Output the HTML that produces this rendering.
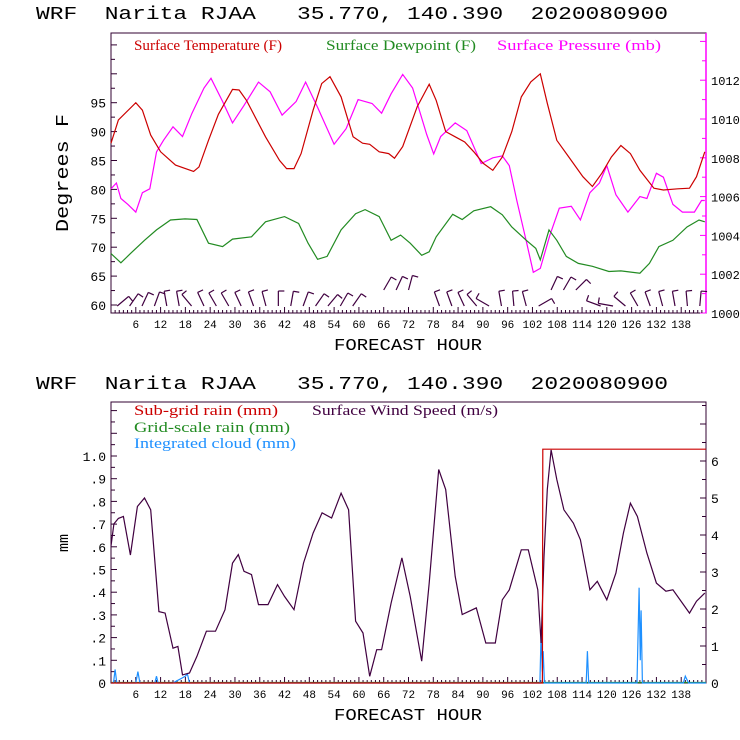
<!DOCTYPE html>
<html><head><meta charset="utf-8"><style>
html,body{margin:0;padding:0;background:#fff;}
svg{display:block;}
text{font-family:"Liberation Sans",sans-serif;}
.mono{font-family:"Liberation Mono",monospace;}
.serif{font-family:"Liberation Serif",serif;}
.pre{white-space:pre;}
</style></head><body>
<svg id="chart" width="740" height="740" viewBox="0 0 740 740" xmlns="http://www.w3.org/2000/svg">
<g id="topPanel"></g>
<g id="botPanel"></g>
</svg>
<script>
// ---------- data (top panel) ----------
const tempHours=[0,1.8,6,7.6,9.6,12,15.6,20,21.3,23.6,26,29.4,31,32.8,37.4,40.8,42.5,44.3,46,48.9,51,53,55.7,58.6,60.9,62.6,64.9,67.2,68.6,70.6,74.1,77,78.7,81,83.3,85.6,87.8,90.1,92.4,94.7,97,99.3,101.6,103.9,105.6,107.9,110.8,114.2,116.5,118.8,121.1,123.4,125.7,128,131.4,133.7,137.2,140,141.7,143.7];
const tempVals=[88,92,95,93.7,89.4,86.5,84.2,83.1,83.9,88.5,93,97.3,97.2,95.4,89.1,85,83.6,83.6,86.2,93.7,98.3,99.5,96,89.1,88,87.8,86.5,86.2,85.4,87.4,94.3,98.2,95.4,90,89.1,88.2,86.5,84.5,83.3,85.6,90,96,98.6,100,94.9,88.5,85.6,82.2,80.5,82.8,85.6,87.6,86.2,83.3,80.2,79.9,80.1,80.2,82.2,86.5];
const dewHours=[0,2.4,4.7,8.1,11,14.4,17.9,20.8,23.6,27,29.4,34,37.4,42,45.4,47.7,50,52.3,55.7,59.2,61.5,64.9,67.8,70.1,72.4,75.2,77,78.7,82.7,85,87.8,91.9,94.7,97,100.5,102.8,103.9,106,107.9,110.2,113.1,116.5,120.5,123.4,128,130.3,132.6,136,139.4,142.3,143.7];
const dewVals=[68.9,67.3,68.9,71.2,73,74.7,74.9,74.8,70.7,70.1,71.4,71.8,74.4,75.3,74.1,70.7,67.9,68.4,73,75.8,76.5,75.3,71.2,72.1,70.7,68.6,69.2,71.8,75.7,74.8,76.3,77,75.6,73.5,71.2,69.8,67.8,73,71.2,68.4,67.2,66.7,65.8,65.9,65.5,67.2,70.1,71.2,73.5,74.7,74.4];
const presHours=[0,1.3,2.4,4.1,6,7.6,9.4,11,12.7,15,17.3,19.6,22.5,24.2,27,29.4,32.2,35.7,38.5,41.4,44.8,47.1,50,54,56.9,59.8,63.2,65.5,67.8,70.6,73,76.4,78.1,79.8,83.3,86.1,89.6,92.4,94.7,96.4,98.2,100.5,102.2,103.9,106.2,108.5,111.4,113.6,115.9,118.2,120,122.2,125.1,128,129.7,132,133.7,136,138.3,141.2,142.9,143.7];
const presVals=[1006.4,1006.7,1005.9,1005.6,1005.2,1006.2,1006.4,1008.3,1008.9,1009.6,1009.1,1010.3,1011.6,1012.1,1010.9,1009.8,1010.7,1011.9,1011.4,1010.2,1010.9,1011.9,1010.6,1008.7,1009.5,1011,1010.8,1010.3,1011.3,1012.3,1011.6,1009.2,1008.2,1009.1,1009.8,1009.4,1007.7,1008,1008.1,1007.6,1005.8,1003.7,1002.1,1002.3,1004,1005.4,1005.5,1004.8,1006.2,1006.7,1007.6,1006.1,1005.2,1006,1005.9,1007.2,1007,1005.6,1005.2,1005.2,1005.8,1005.8];
const tempTicks=[60,65,70,75,80,85,90,95];
const presTicks=[1000,1002,1004,1006,1008,1010,1012];
const hourTicks=[6,12,18,24,30,36,42,48,54,60,66,72,78,84,90,96,102,108,114,120,126,132,138];
const barbHours=[1.5,4.5,7.5,10.5,13.5,16.5,19.5,22.5,25.5,28.5,31.5,34.5,37.5,40.5,43.5,46.5,49.5,52.5,55.5,58.5,66,69,72,79.5,82.5,85.5,88.5,91.5,94.5,97.5,100.5,103.5,106.5,109.5,112.5,118.5,121.5,124.5,127.5,130.5,133.5,136.5,139.5,142.5];
const barbAngles=[50,35,25,20,-10,-10,-40,-25,-30,-30,-25,-20,-15,0,10,20,35,40,30,35,30,25,15,-20,-20,-25,-40,-60,-10,-5,-15,60,25,30,45,-70,-80,-50,-30,-20,-15,-10,-5,5];
const barbRaised=[0,0,0,0,0,0,0,0,0,0,0,0,0,0,0,0,0,0,0,0,1,1,1,0,0,0,0,0,0,0,0,0,1,1,1,0,0,0,0,0,0,0,0,0];
// ---------- data (bottom panel) ----------
const windHours=[0,0.7,1.8,3,4.7,6.4,8.1,9.6,11.6,13.1,15,16.2,17.3,19,20.8,23.1,25.3,27.6,29.4,30.8,32.2,34,35.7,38,40.3,42,44.3,46.6,48.9,51.1,53.4,55.7,57.5,59.2,61,62.6,64.3,65.5,67.8,70.4,72.4,75.2,77,79.3,81,83.3,85,88.4,90.7,93,94.7,96.4,99.3,101,103.3,104.1,104.8,105.6,106.5,107.9,109.6,111.9,113.6,115.9,117.7,120,122.2,124,125.7,127.4,129.7,132,134.3,136,138.3,140,141.7,143.7];
const windVals=[3.7,4.3,4.45,4.5,3.46,4.77,5,4.68,1.93,1.89,0.94,0.99,0.22,0.27,0.72,1.4,1.4,1.98,3.24,3.47,3.02,2.93,2.12,2.12,2.66,2.34,1.98,3.24,4.05,4.6,4.46,5.13,4.68,1.67,1.35,0.18,0.9,0.9,2.16,3.38,2.34,0.59,2.7,5.77,5.23,2.88,1.85,2.03,1.08,1.08,2.25,2.52,3.6,3.6,2.52,1.08,3.42,5.23,6.3,5.5,4.68,4.32,3.87,2.52,2.75,2.25,2.97,4.05,4.86,4.5,3.51,2.7,2.48,2.52,2.16,1.89,2.21,2.43];
const rainHours=[0,104.4,104.5,144];
const rainVals=[0,0,1.03,1.03];
const cloudHours=[0,0.6,1,1.4,6,6.5,7,10.6,11,11.4,15,16,17,18,18.5,19,103.8,104.1,104.4,104.6,104.9,115,115.3,115.6,127.3,127.8,128.1,128.3,128.6,138.5,139,139.8,144];
const cloudVals=[0,0,0.06,0,0,0.05,0,0,0.03,0,0,0.01,0.02,0.03,0.04,0,0,0.22,0.05,0.14,0,0,0.14,0,0,0.42,0.1,0.32,0,0,0.03,0,0];
const mmTicks=[0,0.1,0.2,0.3,0.4,0.5,0.6,0.7,0.8,0.9,1.0];
const mmLabels=["0",".1",".2",".3",".4",".5",".6",".7",".8",".9","1.0"];
const msTicks=[0,1,2,3,4,5,6];

const NS="http://www.w3.org/2000/svg";
function mk(parent,tag,attrs,txt){const e=document.createElementNS(NS,tag);for(const k in attrs)e.setAttribute(k,attrs[k]);if(txt!==undefined)e.textContent=txt;parent.appendChild(e);return e;}
const X0=111,X1=706;
function xH(h){return X0+(X1-X0)*h/144;}
const T0=313,TT=33;
function yT(v){return 305-(v-60)*5.78;}
function yP(v){return 313-(v-1000)*19.4;}
const B0=683,BT=402;
function yMM(v){return 683-v*227;}
function yMS(v){return 683-v*37;}
function pts(hs,vs,fy){return hs.map((h,i)=>xH(h).toFixed(1)+","+fy(vs[i]).toFixed(1)).join(" ");}

function drawTitle(g,y){
  const t=mk(g,"text",{x:36,y:y,"font-size":18,fill:"#000",class:"mono pre",textLength:632,lengthAdjust:"spacingAndGlyphs"},"WRF  Narita RJAA   35.770, 140.390  2020080900");
  
  
}
function xaxis(g,bottom){
  for(let h=1;h<144;h++){const big=h%6===0;
    const l=mk(g,"line",{x1:xH(h),x2:xH(h),y1:bottom,y2:bottom-(big?6:3),stroke:"#300030","stroke-width":1});
    
    }
  hourTicks.forEach(h=>{const t=mk(g,"text",{x:xH(h),y:bottom+15,"font-size":11,"text-anchor":"middle",class:"mono",fill:"#000"},String(h));
    
    });
  const xt=mk(g,"text",{x:408,y:bottom+37,"font-size":17,"text-anchor":"middle",class:"mono",fill:"#000",textLength:148,lengthAdjust:"spacingAndGlyphs"},"FORECAST HOUR");
  
  
}

// ===== TOP PANEL =====
const topG=document.getElementById('topPanel');
drawTitle(topG,19);
const fr=mk(topG,"rect",{x:X0,y:TT,width:X1-X0,height:T0-TT,fill:"none",stroke:"#300030","stroke-width":1});


const ra=mk(topG,"line",{x1:X1,x2:X1,y1:TT,y2:T0,stroke:"#ff00ff","stroke-width":1.5});


for(let v=60;v<=107;v+=2.5){const y=yT(v);if(y<TT+2)continue;
  const l=mk(topG,"line",{x1:X0,x2:X0+(v%5===0?6:4),y1:y,y2:y,stroke:"#300030"});
  
  }
tempTicks.forEach(v=>{const t=mk(topG,"text",{x:106,y:yT(v)+5,"font-size":13,"text-anchor":"end",class:"mono",fill:"#000"},String(v));
  
  });
for(let v=1000;v<=1014;v+=1){const y=yP(v);
  const l=mk(topG,"line",{x1:X1,x2:X1-(v%2===0?6:4),y1:y,y2:y,stroke:"#ff00ff"});
  
  }
presTicks.forEach(v=>{const t=mk(topG,"text",{x:711,y:yP(v)+5,"font-size":12,class:"mono",fill:"#000"},String(v));
  
  });
const yl=mk(topG,"text",{x:0,y:0,"font-size":18,"text-anchor":"middle",class:"mono",fill:"#000",transform:"translate(68,173) rotate(-90)",textLength:118,lengthAdjust:"spacingAndGlyphs"},"Degrees F");


xaxis(topG,T0);
[["Surface Temperature (F)","#cc0000",134,148],["Surface Dewpoint (F)","#228b22",326,150],["Surface Pressure (mb)","#ff00ff",497,164]].forEach(([s,c,x,w],i)=>{
  const t=mk(topG,"text",{x:x,y:50,"font-size":15,class:"serif",fill:c,textLength:w,lengthAdjust:"spacingAndGlyphs"},s);
  
  });
const pl=mk(topG,"polyline",{points:pts(presHours,presVals,yP),fill:"none",stroke:"#ff00ff","stroke-width":1.2});


const dl=mk(topG,"polyline",{points:pts(dewHours,dewVals,yT),fill:"none",stroke:"#228b22","stroke-width":1.2});


const tl=mk(topG,"polyline",{points:pts(tempHours,tempVals,yT),fill:"none",stroke:"#cc0000","stroke-width":1.2});


barbHours.forEach((h,i)=>{
  const bx=xH(h), by=barbRaised[i]?290:306, a=barbAngles[i]*Math.PI/180, L=15;
  const tx=bx+Math.sin(a)*L, ty=by-Math.cos(a)*L;
  const g=mk(topG,"g",{stroke:"#400040","stroke-width":1.2,fill:"none"});
  
  
  mk(g,"line",{x1:bx,y1:by,x2:tx,y2:ty});
  mk(g,"line",{x1:tx,y1:ty,x2:tx+Math.cos(a)*6,y2:ty+Math.sin(a)*6});
});

// ===== BOTTOM PANEL =====
const botG=document.getElementById('botPanel');
drawTitle(botG,389);
const fr2=mk(botG,"rect",{x:X0,y:BT,width:X1-X0,height:B0-BT,fill:"none",stroke:"#300030","stroke-width":1});


for(let k=1;k<25;k++){const v=k*0.05;const y=yMM(v);if(y<BT+2)continue;
  const l=mk(botG,"line",{x1:X0,x2:X0+(k%2===0?6:4),y1:y,y2:y,stroke:"#300030"});
  
  }
mmTicks.forEach((v,i)=>{const t=mk(botG,"text",{x:106,y:yMM(v)+5,"font-size":13,"text-anchor":"end",class:"mono",fill:"#000"},mmLabels[i]);
  
  });
for(let k=1;k<16;k++){const v=k*0.5;const y=yMS(v);if(y<BT+2)continue;
  const l=mk(botG,"line",{x1:X1,x2:X1-(k%2===0?6:4),y1:y,y2:y,stroke:"#300030"});
  
  }
msTicks.forEach(v=>{const t=mk(botG,"text",{x:711,y:yMS(v)+5,"font-size":13,class:"mono",fill:"#000"},String(v));
  
  });
const yl2=mk(botG,"text",{x:0,y:0,"font-size":15,"text-anchor":"middle",class:"mono",fill:"#000",transform:"translate(68,543) rotate(-90)"},"mm");


xaxis(botG,B0);
[["Sub-grid rain (mm)","#cc0000",134,415,144],["Grid-scale rain (mm)","#228b22",134,432,156],["Integrated cloud (mm)","#1e90ff",134,448,162],["Surface Wind Speed (m/s)","#400040",312,415,186]].forEach(([s,c,x,y,w],i)=>{
  const t=mk(botG,"text",{x:x,y:y,"font-size":15,class:"serif",fill:c,textLength:w,lengthAdjust:"spacingAndGlyphs"},s);
  
  });
const gl=mk(botG,"line",{x1:X0,x2:X1,y1:B0-0.5,y2:B0-0.5,stroke:"#228b22","stroke-width":1.2});


const cl=mk(botG,"polyline",{points:pts(cloudHours,cloudVals,yMM),fill:"none",stroke:"#1e90ff","stroke-width":1.2});


const wl=mk(botG,"polyline",{points:pts(windHours,windVals,yMS),fill:"none",stroke:"#400040","stroke-width":1.2});


const rl=mk(botG,"polyline",{points:pts(rainHours,rainVals,yMM),fill:"none",stroke:"#cc0000","stroke-width":1.2});


</script>
</body></html>
